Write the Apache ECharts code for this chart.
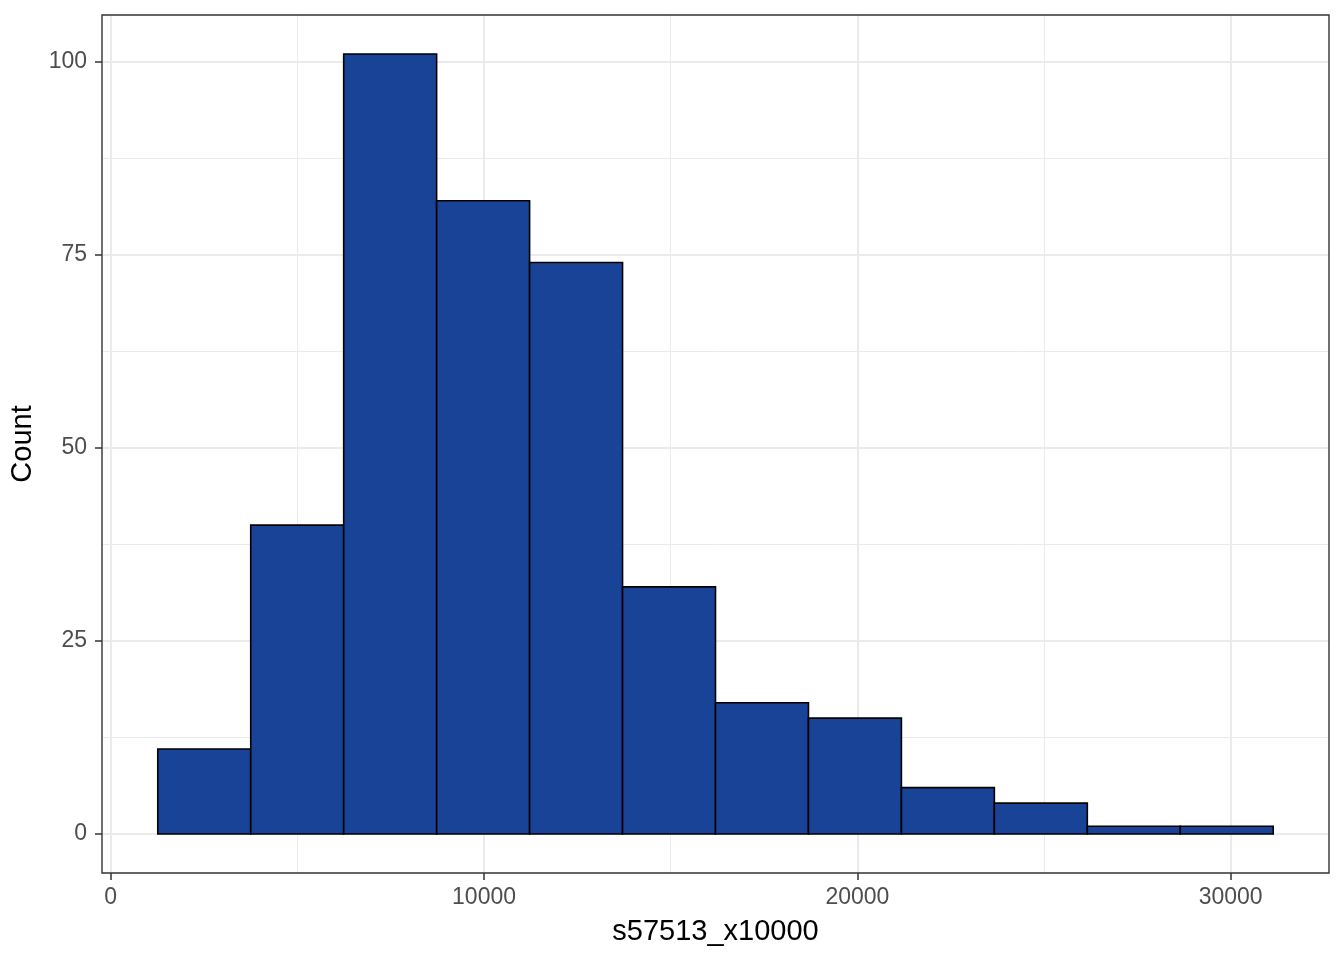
<!DOCTYPE html>
<html>
<head>
<meta charset="utf-8">
<script src="https://cdn.jsdelivr.net/npm/echarts@6/dist/echarts.min.js"></script>
<style>html,body{margin:0;padding:0;background:#fff;}#chart{width:1344px;height:960px;}</style>
</head>
<body>
<div id="chart"></div>
<script>
// Histogram data
const binStart = 1260;
const binWidth = 2490;
const counts = [11, 40, 101, 82, 74, 32, 17, 15, 6, 4, 1, 1];
const xTicks = [0, 10000, 20000, 30000];
const xMinor = [5000, 15000, 25000];
const yTicks = [0, 25, 50, 75, 100];
const yMinor = [12.5, 37.5, 62.5, 87.5];
const xRange = [-234, 32634];
const yRange = [-5.05, 106.05];

const bars = counts.map((c, i) => [binStart + i * binWidth, binStart + (i + 1) * binWidth, c]);

const font = "'Liberation Sans', Arial, sans-serif";
const chart = echarts.init(document.getElementById('chart'));

const gridLines = [];
xMinor.forEach(v => gridLines.push({xAxis: v, lineStyle: {color: '#EBEBEB', width: 1}}));
yMinor.forEach(v => gridLines.push({yAxis: v, lineStyle: {color: '#EBEBEB', width: 1}}));
xTicks.forEach(v => gridLines.push({xAxis: v, lineStyle: {color: '#EBEBEB', width: 2}}));
yTicks.forEach(v => gridLines.push({yAxis: v, lineStyle: {color: '#EBEBEB', width: 2}}));

chart.setOption({
  animation: false,
  backgroundColor: '#ffffff',
  grid: {left: 102, right: 15, top: 15, bottom: 87, show: true, borderColor: '#333333', borderWidth: 1.4, backgroundColor: 'transparent', z: 10},
  xAxis: {
    type: 'value', min: xRange[0], max: xRange[1],
    name: 's57513_x10000', nameLocation: 'middle', nameGap: 44,
    nameTextStyle: {fontFamily: font, fontSize: 29, color: '#000'},
    axisLine: {show: false, onZero: false},
    axisTick: {show: true, inside: false, length: 7, customValues: xTicks, lineStyle: {color: '#333333', width: 1.5}},
    axisLabel: {customValues: xTicks, fontFamily: font, fontSize: 23, color: '#4D4D4D', margin: 13,
      formatter: v => String(v)},
    splitLine: {show: false}
  },
  yAxis: {
    type: 'value', min: yRange[0], max: yRange[1],
    name: 'Count', nameLocation: 'middle', nameGap: 54, nameRotate: 90,
    nameTextStyle: {fontFamily: font, fontSize: 29, color: '#000'},
    axisLine: {show: false, onZero: false},
    axisTick: {show: true, inside: false, length: 7, customValues: yTicks, lineStyle: {color: '#333333', width: 1.5}},
    axisLabel: {customValues: yTicks, fontFamily: font, fontSize: 23, color: '#4D4D4D', margin: 15,
      formatter: v => String(v)},
    splitLine: {show: false}
  },
  series: [
    {
      type: 'line', data: [], z: 0, silent: true,
      markLine: {silent: true, z: 0, symbol: 'none', label: {show: false}, animation: false,
        lineStyle: {type: 'solid'}, data: gridLines}
    },
    {
      type: 'custom', z: 8,
      data: bars,
      renderItem: function (params, api) {
        const p0 = api.coord([api.value(0), api.value(2)]);
        const p1 = api.coord([api.value(1), 0]);
        return {
          type: 'rect',
          shape: {x: p0[0], y: p0[1], width: p1[0] - p0[0], height: p1[1] - p0[1]},
          style: {fill: '#184397', stroke: '#000000', lineWidth: 1.6}
        };
      }
    }
  ]
});
</script>
</body>
</html>
